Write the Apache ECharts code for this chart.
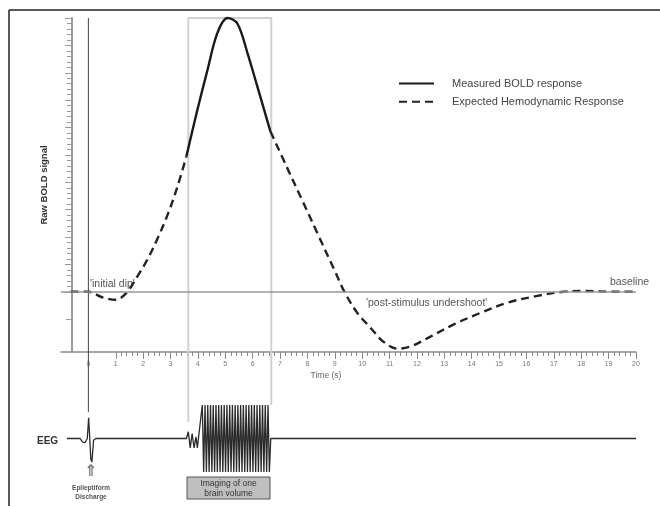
<!DOCTYPE html>
<html>
<head>
<meta charset="utf-8">
<style>html,body{margin:0;padding:0;background:#fff}#P1{width:660px;height:506px}</style>
<script src="https://cdn.jsdelivr.net/npm/echarts@6.0.0/dist/echarts.min.js"></script>
</head>
<body>
<div id="P1"></div>
<script>
// time (s) and raw BOLD signal (baseline = 0)
var expectedTime = [-0.65, 0, 0.5, 1.0, 1.4, 1.75, 2.15, 2.55, 2.92, 3.25, 3.58, 3.98, 4.35, 4.71, 5.08, 5.44, 5.81, 6.17, 6.65,
	7.2, 7.8, 8.4, 9.0, 9.35, 9.82, 10.3, 10.77, 11.29, 11.76, 12.49, 13.33, 14.32, 15.3, 16.4, 17.35, 18.08, 19.17, 20];
var expectedValue = [0, 0, -0.2, -0.29, -0.03, 0.5, 1.17, 2.0, 2.88, 3.83, 4.95, 6.64, 8.1, 9.45, 10.0, 9.8, 8.72, 7.5, 5.85,
	4.66, 3.36, 2.06, 0.76, 0, -0.77, -1.31, -1.82, -2.08, -2.0, -1.64, -1.2, -0.77, -0.4, -0.15, 0, 0.03, 0, 0];
var measuredTime = [3.58, 3.98, 4.35, 4.71, 5.08, 5.44, 5.81, 6.17, 6.65];
var measuredValue = [4.95, 6.64, 8.1, 9.45, 10.0, 9.8, 8.72, 7.5, 5.85];

// EEG trace: discharge at 0 s, then the imaging burst
var eegTime = [-0.78, -0.3, -0.22, -0.12, -0.04, 0.01, 0.05, 0.09, 0.13, 0.19, 0.27,
	3.58, 3.65, 3.72, 3.79, 3.86, 3.93, 3.98,
	4.16, 4.21, 4.26, 4.31, 4.36, 4.41, 4.46, 4.51, 4.56, 4.61, 4.66, 4.71, 4.76, 4.81, 4.86, 4.91, 4.96,
	5.01, 5.06, 5.11, 5.16, 5.21, 5.26, 5.31, 5.36, 5.41, 5.46, 5.51, 5.56, 5.61, 5.66, 5.71, 5.76, 5.81,
	5.86, 5.91, 5.96, 6.01, 6.06, 6.11, 6.16, 6.21, 6.26, 6.31, 6.36, 6.41, 6.46, 6.51, 6.56, 6.61,
	6.66, 20];
var eegValue = [0, 0, -0.1, -0.12, 0, 0.62, 0.58, -0.62, -0.7, -0.05, 0,
	0, 0.2, -0.28, 0.15, -0.28, 0.05, -0.28,
	1, -1, 1, -1, 1, -1, 1, -1, 1, -1, 1, -1, 1, -1, 1, -1, 1,
	-1, 1, -1, 1, -1, 1, -1, 1, -1, 1, -1, 1, -1, 1, -1, 1, -1,
	1, -1, 1, -1, 1, -1, 1, -1, 1, -1, 1, -1, 1, -1, 1, -1,
	0, 0];

var yTicksBelow = [-1];
var onsetTime = [0];
var windowTime = [3.65, 6.68];

function pairs(xs, ys) {
	return xs.map(function(x, i) { return [x, ys[i]]; });
}

var t0 = measuredTime[0], t1 = measuredTime[measuredTime.length - 1];
var expectedData = expectedTime.map(function(t, i) {
	return (t > t0 && t < t1) ? [t, '-'] : [t, expectedValue[i]];
});

var font = 'Liberation Sans';
var myChart = echarts.init(document.getElementById('P1'));

var option = {
	animation: false,
	backgroundColor: '#fff',
	textStyle: { fontFamily: font },
	grid: [
		{ left: 61, right: 24, top: 18, height: 334, outerBoundsMode: 'none' },
		{ left: 115.76, right: 24, top: 18, height: 334, outerBoundsMode: 'none' },
		{ left: 61, right: 24, top: 18, height: 273.8, outerBoundsMode: 'none' },
		{ left: 61, right: 24, top: 405, height: 67, outerBoundsMode: 'none' },
		{ left: 61, right: 24, top: 18, height: 404, outerBoundsMode: 'none' }
	],
	xAxis: [{
		gridIndex: 0, type: 'value', min: -1, max: 20, interval: 1,
		axisLine: { show: true, onZero: false, lineStyle: { color: '#8a8a8a', width: 1.5 } },
		axisTick: { show: false },
		splitLine: { show: false },
		axisLabel: {
			fontSize: 7, color: '#777', margin: 9,
			formatter: function(v) { return v < 0 ? '' : v; }
		}
	}, {
		gridIndex: 1, type: 'value', min: 1, max: 20, interval: 1,
		axisLine: { show: false, onZero: false },
		axisTick: { show: true, length: 7, lineStyle: { color: '#8a8a8a' } },
		minorTick: { show: true, splitNumber: 5, length: 4, lineStyle: { color: '#8a8a8a' } },
		axisLabel: { show: false },
		splitLine: { show: false }
	}, {
		gridIndex: 2, type: 'value', min: -1, max: 20, show: false
	}, {
		gridIndex: 3, type: 'value', min: -1, max: 20, show: false
	}, {
		gridIndex: 4, type: 'value', min: -1, max: 20, show: false
	}],
	yAxis: [{
		gridIndex: 0, type: 'value', min: -2.2, max: 10, offset: -11,
		name: 'Raw BOLD signal', nameLocation: 'middle', nameGap: 23, nameRotate: 90,
		nameTextStyle: { fontSize: 9.5, fontWeight: 'bold', color: '#333' },
		axisLine: { show: true, onZero: false, lineStyle: { color: '#9a9a9a', width: 2 } },
		axisTick: { show: true, customValues: yTicksBelow, length: 6, lineStyle: { color: '#9a9a9a' } },
		axisLabel: { show: false },
		splitLine: { show: false }
	}, {
		gridIndex: 1, type: 'value', min: 0, max: 1, show: false
	}, {
		gridIndex: 2, type: 'value', min: 0, max: 10, interval: 1, offset: -11,
		axisLine: { show: false, onZero: false },
		axisTick: { show: true, length: 7, lineStyle: { color: '#9a9a9a' } },
		minorTick: { show: true, splitNumber: 5, length: 5, lineStyle: { color: '#9a9a9a' } },
		axisLabel: { show: false },
		splitLine: { show: false }
	}, {
		gridIndex: 3, type: 'value', min: -1, max: 1, show: false
	}, {
		gridIndex: 4, type: 'value', min: 0, max: 1, show: false
	}],
	legend: {
		orient: 'vertical',
		left: 393,
		top: 73,
		itemWidth: 35,
		itemHeight: 14,
		itemGap: 7,
		itemStyle: { opacity: 0 },
		textStyle: { fontSize: 11, color: '#444', padding: [0, 0, 0, 13] },
		data: ['Measured BOLD response', 'Expected Hemodynamic Response']
	},
	series: [{
		name: 'imaging window',
		type: 'line', xAxisIndex: 4, yAxisIndex: 4, z: 1, silent: true,
		symbol: 'none',
		lineStyle: { color: '#d0d0d0', width: 2 },
		data: [[windowTime[0], 0], [windowTime[0], 1], [windowTime[1], 1], [windowTime[1], 0.042]]
	}, {
		name: 'onset',
		type: 'line', xAxisIndex: 4, yAxisIndex: 4, z: 1, silent: true,
		symbol: 'none',
		lineStyle: { color: '#444', width: 1 },
		data: [[onsetTime[0], 1], [onsetTime[0], 0.025]]
	}, {
		name: 'Expected Hemodynamic Response',
		type: 'line', xAxisIndex: 0, yAxisIndex: 0, z: 3,
		symbol: 'none', smooth: 0.35, clip: false, connectNulls: false,
		lineStyle: { color: '#222', width: 2.4, type: [8, 5] },
		itemStyle: { color: '#222' },
		data: expectedData,
		markLine: {
			silent: true, symbol: ['none', 'none'],
			label: { show: false },
			lineStyle: { color: '#999', width: 1.5, type: 'solid' },
			data: [{ yAxis: 0 }]
		}
	}, {
		name: 'Measured BOLD response',
		type: 'line', xAxisIndex: 0, yAxisIndex: 0, z: 4,
		symbol: 'none', smooth: 0.35, clip: false,
		lineStyle: { color: '#1a1a1a', width: 2.4 },
		itemStyle: { color: '#1a1a1a' },
		data: pairs(measuredTime, measuredValue)
	}, {
		name: 'EEG',
		type: 'line', xAxisIndex: 3, yAxisIndex: 3, z: 3, silent: true,
		symbol: 'none',
		lineStyle: { color: '#2a2a2a', width: 1.3 },
		data: pairs(eegTime, eegValue)
	}],
	graphic: [
		{ type: 'line', shape: { x1: 9, y1: 10, x2: 660, y2: 10 }, style: { stroke: '#222', lineWidth: 1.5 } },
		{ type: 'line', shape: { x1: 9, y1: 10, x2: 9, y2: 506 }, style: { stroke: '#222', lineWidth: 1.5 } },
		{ type: 'text', style: { text: "'initial dip'", x: 90, y: 284, font: '10.5px Liberation Sans', fill: '#555', verticalAlign: 'middle' } },
		{ type: 'text', style: { text: "'post-stimulus undershoot'", x: 366, y: 303, font: '10.5px Liberation Sans', fill: '#555', verticalAlign: 'middle' } },
		{ type: 'text', style: { text: 'baseline', x: 610, y: 282, font: '10.5px Liberation Sans', fill: '#555', verticalAlign: 'middle' } },
		{ type: 'text', style: { text: 'Time (s)', x: 326, y: 376, font: '8.5px Liberation Sans', fill: '#666', align: 'center', verticalAlign: 'middle' } },
		{ type: 'text', style: { text: 'EEG', x: 37, y: 441, font: 'bold 10px Liberation Sans', fill: '#333', verticalAlign: 'middle' } },
		{ type: 'text', style: { text: '\u21D1', x: 91, y: 472, font: 'bold 16px DejaVu Sans', fill: '#777', align: 'center', verticalAlign: 'middle' } },
		{ type: 'text', style: { text: 'Epileptiform', x: 91, y: 488, font: 'bold 6.5px Liberation Sans', fill: '#555', align: 'center', verticalAlign: 'middle' } },
		{ type: 'text', style: { text: 'Discharge', x: 91, y: 497, font: 'bold 6.5px Liberation Sans', fill: '#555', align: 'center', verticalAlign: 'middle' } },
		{ type: 'rect', shape: { x: 187, y: 477, width: 83, height: 22 }, style: { fill: '#bfbfbf', stroke: '#555', lineWidth: 1 } },
		{ type: 'text', style: { text: 'Imaging of one', x: 228.5, y: 483.5, font: '8.5px Liberation Sans', fill: '#333', align: 'center', verticalAlign: 'middle' } },
		{ type: 'text', style: { text: 'brain volume', x: 228.5, y: 493.5, font: '8.5px Liberation Sans', fill: '#333', align: 'center', verticalAlign: 'middle' } }
	]
};
myChart.setOption(option);
</script>
</body>
</html>
